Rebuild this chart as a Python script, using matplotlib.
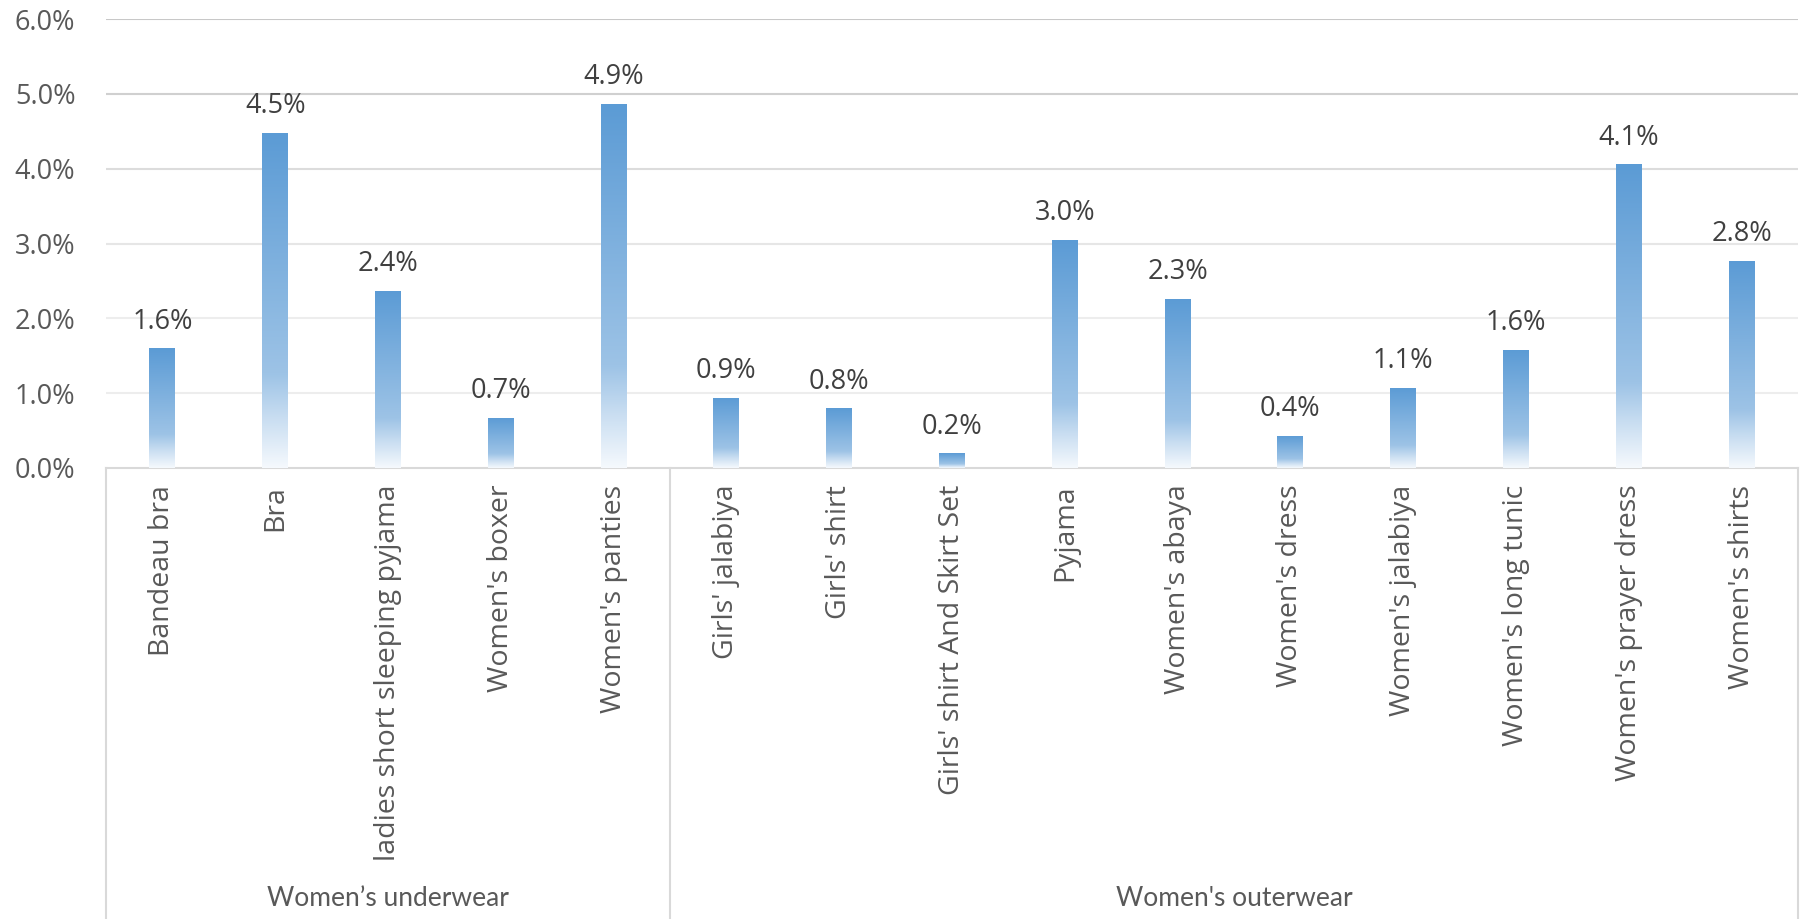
import numpy as np
import matplotlib
matplotlib.use('Agg')
import matplotlib.pyplot as plt
import matplotlib.transforms as mtransforms
from matplotlib.ticker import FuncFormatter

# data
categories = ["Bandeau bra", "Bra", "ladies short sleeping pyjama", "Women's boxer",
              "Women's panties", "Girls' jalabiya", "Girls' shirt",
              "Girls' shirt And Skirt Set", "Pyjama", "Women's abaya", "Women's dress",
              "Women's jalabiya", "Women's long tunic", "Women's prayer dress",
              "Women's shirts"]
shares = [1.60, 4.48, 2.37, 0.67, 4.87, 0.94, 0.80, 0.20, 3.05, 2.26, 0.43,
          1.07, 1.58, 4.06, 2.77]
groups = ["Women’s underwear", "Women's outerwear"]
group_sizes = [5, 10]
yticks = [0, 1, 2, 3, 4, 5, 6]

plt.rcParams['font.family'] = ['Open Sans', 'DejaVu Sans']

fig = plt.figure(figsize=(18, 9.19), dpi=100)
ax = fig.add_axes([106 / 1800, 1 - 468 / 919, 1692 / 1800, 449 / 919])

x = np.arange(len(categories))
bw = 0.23

# gradient: top colour -> near white at the base
stops_t = [0.0, 0.72, 0.85, 1.0]
stops_c = np.array([[0x5B, 0x9B, 0xD5], [0x9D, 0xC3, 0xE6],
                    [0xC8, 0xDD, 0xF1], [0xF5, 0xF9, 0xFD]]) / 255.0
tt = np.linspace(0, 1, 256)
grad = np.stack([np.interp(tt, stops_t, stops_c[:, k]) for k in range(3)], axis=-1)
grad = grad[:, None, :]

bars = ax.bar(x, shares, width=bw, facecolor='none', edgecolor='none', zorder=3)
for b, v in zip(bars, shares):
	x0 = b.get_x()
	im = ax.imshow(grad, extent=[x0, x0 + b.get_width(), 0, v], origin='upper',
			aspect='auto', interpolation='bilinear', zorder=3)
	im.set_clip_path(b)
	ax.annotate('%.1f%%' % v, (b.get_x() + b.get_width() / 2, v),
			xytext=(0, 14), textcoords='offset points', ha='center', va='baseline',
			fontsize=19.5, color='#404040')

ax.set_xlim(-0.5, len(categories) - 0.5)
ax.set_ylim(0, 6)
ax.set_yticks(yticks)
ax.yaxis.set_major_formatter(FuncFormatter(lambda v, p: '%.1f%%' % v))
ax.tick_params(axis='y', length=0, pad=22, labelsize=19.5, labelcolor='#595959')

grid_cols = ['#D9D9D9', '#EDEDED', '#EDEDED', '#E6E6E6', '#DCDCDC', '#D0D0D0', '#C8C8C8']
for yv, gc in zip(yticks, grid_cols):
	if yv == 0:
		continue
	ax.axhline(yv, color=gc, lw=1.5, zorder=1)

for s in ['left', 'right', 'top']:
	ax.spines[s].set_visible(False)
ax.spines['bottom'].set_color('#D9D9D9')
ax.spines['bottom'].set_linewidth(1.5)

ax.set_xticks(x)
ax.set_xticklabels(categories, rotation=90, ha='center', va='top')
ax.tick_params(axis='x', length=0, pad=12, labelsize=20.5, labelcolor='#595959')

# group boxes below the axis
trans = mtransforms.blended_transform_factory(ax.transData, fig.transFigure)
ybot = ax.get_position().y0
edges = np.concatenate([[0], np.cumsum(group_sizes)]) - 0.5
for e in edges:
	ax.plot([e, e], [0, ybot], transform=trans, color='#D9D9D9', lw=1.5, clip_on=False)
for g, a, b in zip(groups, edges[:-1], edges[1:]):
	ax.text((a + b) / 2, 21 / 919, g, transform=trans, ha='center', va='center',
			fontsize=19, color='#595959', family=['Lato', 'DejaVu Sans'])

plt.savefig('out.png', dpi=100)
